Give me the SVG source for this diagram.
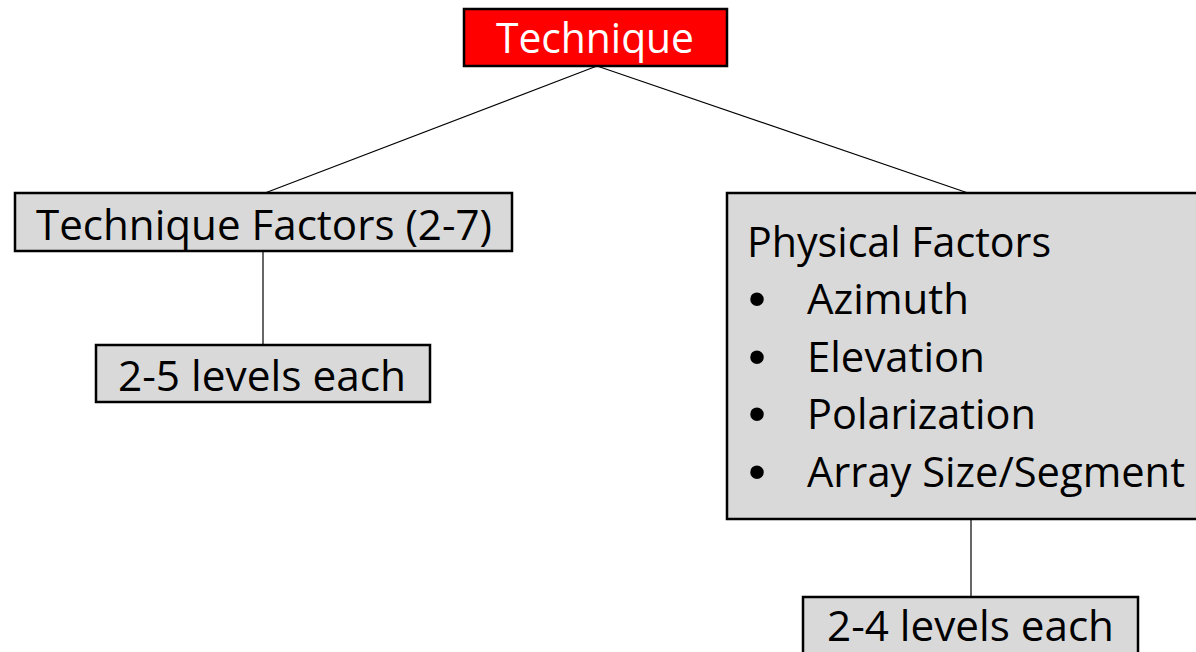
<svg xmlns="http://www.w3.org/2000/svg" width="1196" height="652" viewBox="0 0 1196 652">
  <style>
    .box { fill: #d9d9d9; stroke: #000; stroke-width: 2.5; }
    .red { fill: #ff0000; stroke: #000; stroke-width: 2.5; }
    .t { font-family: "Open Sans", "Liberation Sans", sans-serif; font-size: 42px; fill: #000; }
    .w { fill: #fff; }
    .b { font-family: "Liberation Sans", sans-serif; font-size: 50px; fill: #000; text-anchor: middle; }
    .conn line { stroke: #000; stroke-width: 1.2; }
  </style>
  <rect width="1196" height="652" fill="#fff"/>
  <g class="conn" id="connectors">
    <line x1="597" y1="66" x2="265" y2="193"/>
    <line x1="597" y1="66" x2="968" y2="193"/>
    <line x1="263" y1="251" x2="263" y2="345"/>
    <line x1="971" y1="519" x2="971" y2="597"/>
  </g>
  <g id="technique">
    <rect class="red" x="464" y="9" width="263" height="57"/>
    <text class="t w" x="496" y="53" textLength="198" lengthAdjust="spacingAndGlyphs">Technique</text>
  </g>
  <g id="technique-factors">
    <rect class="box" x="15" y="193" width="497" height="58"/>
    <text class="t" x="36" y="240" textLength="456" lengthAdjust="spacingAndGlyphs">Technique Factors (2-7)</text>
  </g>
  <g id="levels-left">
    <rect class="box" x="96" y="345" width="334" height="57"/>
    <text class="t" x="118" y="391" textLength="288" lengthAdjust="spacingAndGlyphs">2-5 levels each</text>
  </g>
  <g id="physical-factors">
    <rect class="box" x="727" y="193" width="480" height="326"/>
    <text class="t" x="747" y="257" textLength="304" lengthAdjust="spacingAndGlyphs">Physical Factors</text>
    <text class="b" x="757" y="316">•</text>
    <text class="t" x="807" y="314" textLength="162" lengthAdjust="spacingAndGlyphs">Azimuth</text>
    <text class="b" x="757" y="374">•</text>
    <text class="t" x="807" y="372" textLength="178" lengthAdjust="spacingAndGlyphs">Elevation</text>
    <text class="b" x="757" y="431">•</text>
    <text class="t" x="807" y="429" textLength="229" lengthAdjust="spacingAndGlyphs">Polarization</text>
    <text class="b" x="757" y="489">•</text>
    <text class="t" x="807" y="487" textLength="378" lengthAdjust="spacingAndGlyphs">Array Size/Segment</text>
  </g>
  <g id="levels-right">
    <rect class="box" x="803" y="597" width="335" height="58"/>
    <text class="t" x="827" y="641" textLength="287" lengthAdjust="spacingAndGlyphs">2-4 levels each</text>
  </g>
</svg>
